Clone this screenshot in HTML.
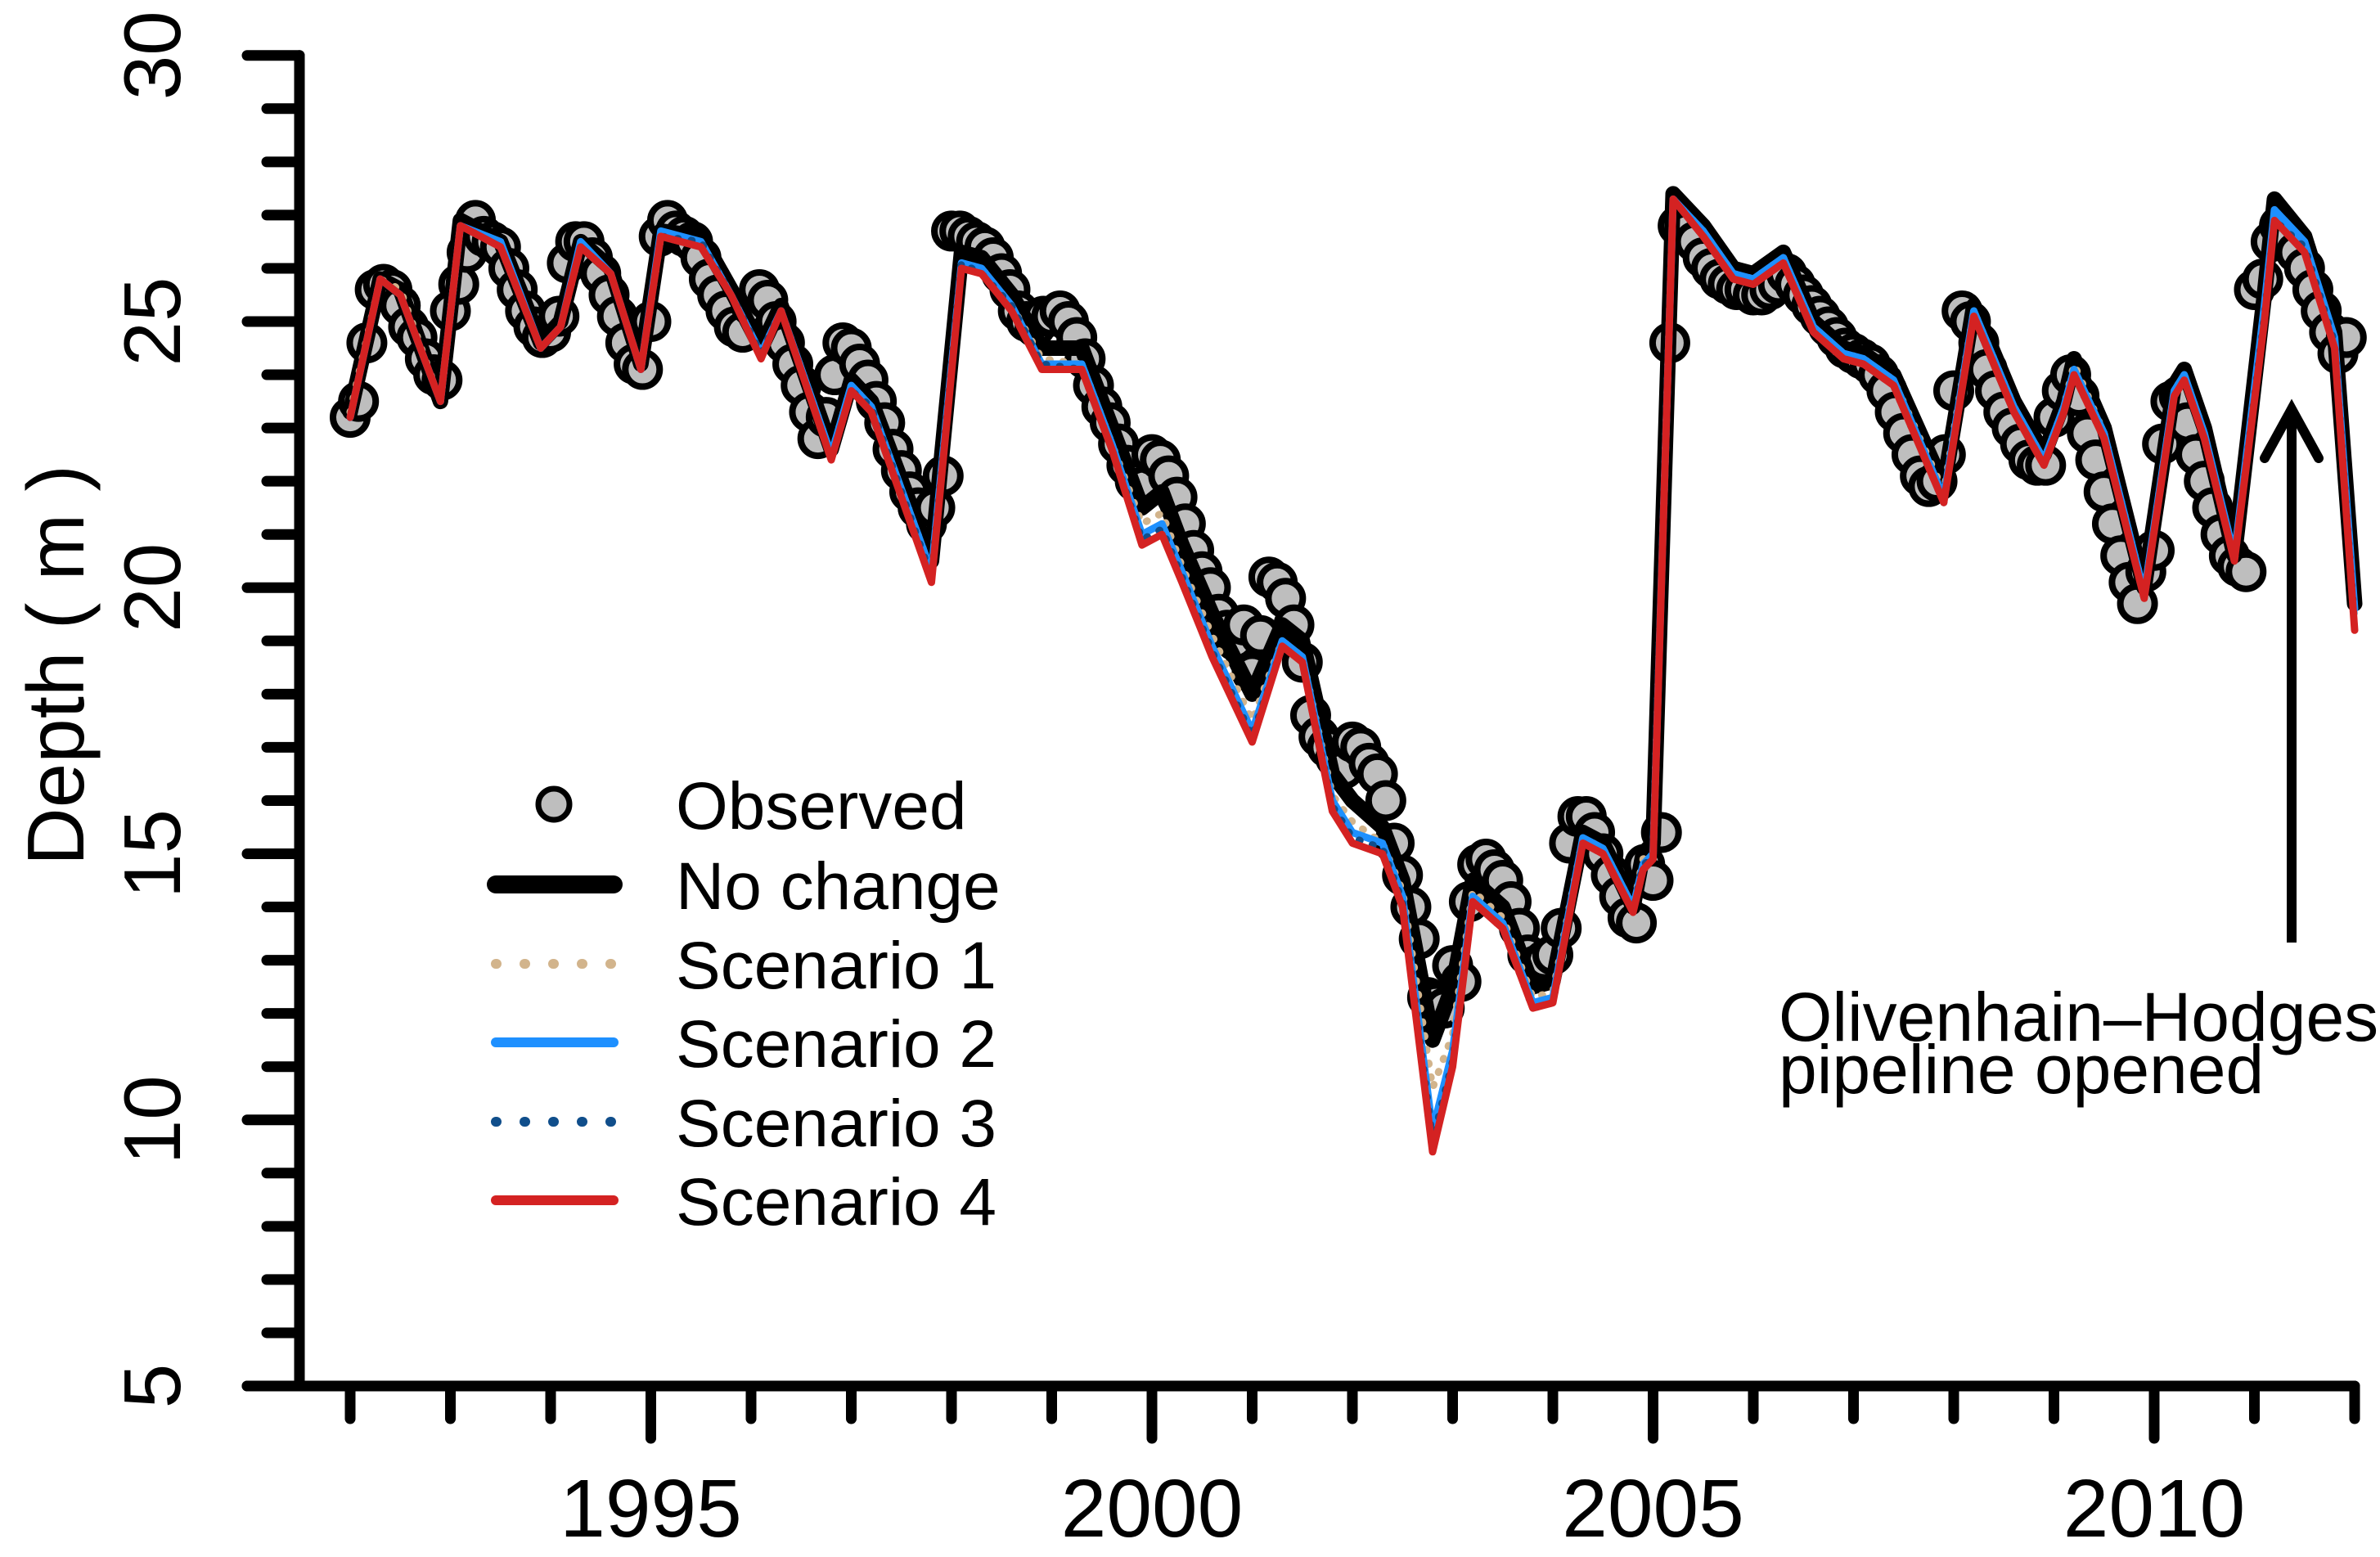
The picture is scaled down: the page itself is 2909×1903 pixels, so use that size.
<!DOCTYPE html>
<html><head><meta charset="utf-8"><style>
html,body{margin:0;padding:0;background:#fff;}
svg{display:block;font-family:"Liberation Sans",sans-serif;}
</style></head><body>
<svg id="chart" width="2909" height="1903" viewBox="0 0 2909 1903" xmlns="http://www.w3.org/2000/svg">
<g id="axes"></g>
<g id="plot"></g>
<g id="legend"></g>
<g>
<text x="2174" y="1272" font-size="84">Olivenhain–Hodges</text>
<text x="2174" y="1336" font-size="84">pipeline opened</text>
<line x1="2801" y1="1152" x2="2801" y2="500" stroke="#000" stroke-width="12"/>
<polyline points="2768,560 2801,500 2834,560" fill="none" stroke="#000" stroke-width="12" stroke-linecap="round" stroke-linejoin="miter"/>
</g>
</svg>
<script>
const yTicks = [5,6,7,8,9,10,11,12,13,14,15,16,17,18,19,20,21,22,23,24,25,26,27,28,29,30];
const yLabels = [5,10,15,20,25,30];
const xTicks = [1992,1993,1994,1995,1996,1997,1998,1999,2000,2001,2002,2003,2004,2005,2006,2007,2008,2009,2010,2011,2012];
const xLabels = [1995,2000,2005,2010];
const lineTimes = [1992.0,1992.3,1992.5,1992.9,1993.1,1993.5,1993.9,1994.1,1994.3,1994.6,1994.9,1995.1,1995.5,1995.8,1996.1,1996.3,1996.8,1997.0,1997.2,1997.8,1998.1,1998.3,1998.6,1998.9,1999.3,1999.6,1999.9,2000.1,2000.3,2000.6,2001.0,2001.3,2001.5,2001.8,2002.0,2002.3,2002.5,2002.8,2003.0,2003.2,2003.5,2003.8,2004.0,2004.3,2004.5,2004.8,2004.9,2005.0,2005.2,2005.5,2005.8,2006.0,2006.3,2006.6,2006.9,2007.1,2007.4,2007.9,2008.2,2008.6,2008.9,2009.1,2009.2,2009.5,2009.9,2010.2,2010.3,2010.5,2010.8,2011.1,2011.2,2011.5,2011.8,2012.0];
const noChange = [23.3,25.8,25.6,23.5,26.9,26.5,24.6,25.0,26.5,26.0,24.2,26.7,26.6,25.6,24.5,25.3,22.6,23.9,23.5,20.5,26.3,26.2,25.5,24.5,24.5,23.0,21.5,21.8,20.8,19.5,18.0,19.3,19.0,16.5,16.0,15.5,14.5,11.5,12.5,14.5,14.0,12.5,12.6,15.4,15.2,14.0,15.0,15.2,27.4,26.8,26.0,25.9,26.3,25.0,24.5,24.4,24.0,21.9,25.3,23.5,22.5,23.5,24.3,23.0,20.0,23.8,24.1,23.0,20.6,25.5,27.3,26.6,24.8,19.7];
const scen1 = [23.3,25.8,25.6,23.5,26.8,26.4,24.5,24.9,26.4,25.9,24.1,26.6,26.5,25.5,24.4,25.2,22.5,23.8,23.4,20.3,26.1,26.0,25.3,24.3,24.2,22.7,21.2,21.4,20.4,19.1,17.5,19.0,18.7,16.1,15.6,15.2,14.3,10.6,11.6,14.3,13.8,12.3,12.4,15.3,15.1,14.0,14.9,15.0,27.3,26.7,25.9,25.8,26.2,24.9,24.4,24.3,23.9,21.8,25.2,23.4,22.4,23.4,24.2,22.9,19.9,23.7,24.0,22.9,20.5,25.2,27.0,26.4,24.6,19.5];
const scen2 = [23.2,25.8,25.5,23.5,26.8,26.5,24.5,24.9,26.5,25.9,24.1,26.7,26.5,25.5,24.4,25.2,22.5,23.8,23.4,20.3,26.1,26.0,25.3,24.2,24.2,22.7,21.0,21.2,20.3,18.9,17.3,19.0,18.7,16.0,15.4,15.2,14.2,9.8,11.3,14.2,13.7,12.2,12.3,15.3,15.1,14.0,14.8,15.0,27.3,26.7,25.9,25.8,26.2,24.9,24.4,24.3,23.9,21.7,25.2,23.4,22.4,23.4,24.1,22.9,19.9,23.7,24.0,22.9,20.6,25.3,27.1,26.5,24.7,19.6];
const scen3 = [23.2,25.8,25.5,23.5,26.8,26.4,24.5,24.9,26.4,25.9,24.1,26.6,26.5,25.5,24.4,25.2,22.4,23.7,23.4,20.2,26.1,25.9,25.3,24.2,24.1,22.6,20.9,21.1,20.2,18.8,17.2,18.9,18.6,15.9,15.3,15.1,14.1,9.6,11.1,14.1,13.6,12.1,12.2,15.2,15.0,13.9,14.8,14.9,27.3,26.6,25.8,25.7,26.1,24.8,24.3,24.2,23.8,21.6,25.1,23.3,22.3,23.3,24.0,22.8,19.8,23.6,23.9,22.8,20.5,25.1,26.9,26.4,24.6,19.3];
const scen4 = [23.2,25.8,25.5,23.5,26.8,26.4,24.5,24.9,26.4,25.9,24.1,26.6,26.4,25.5,24.3,25.2,22.4,23.7,23.3,20.1,26.0,25.9,25.2,24.1,24.1,22.6,20.8,21.0,20.1,18.7,17.1,18.9,18.6,15.8,15.2,15.0,14.0,9.4,11.0,14.1,13.6,12.1,12.2,15.2,15.0,13.9,14.7,14.9,27.3,26.6,25.8,25.7,26.1,24.8,24.3,24.2,23.8,21.6,25.1,23.3,22.3,23.3,24.0,22.8,19.8,23.6,23.9,22.8,20.5,25.0,26.9,26.3,24.5,19.2];
const obsStart = 1992.0;
const observed = [
23.2,23.5,24.6,25.6,25.7,25.6,25.3,24.9,24.7,24.3,24.0,23.9,
25.2,25.7,26.3,26.9,26.6,26.5,26.4,26.0,25.6,25.2,24.9,24.7,
24.8,25.1,26.1,26.5,26.5,26.2,25.9,25.5,25.1,24.6,24.2,24.1,
25.0,26.6,26.9,26.7,26.6,26.5,26.2,25.8,25.5,25.2,24.9,24.8,
25.3,25.6,25.4,25.0,24.6,24.2,23.8,23.3,22.8,23.2,24.0,24.6,
24.5,24.2,23.9,23.5,23.1,22.6,22.2,21.8,21.5,21.2,21.5,22.1,
26.7,26.7,26.6,26.5,26.4,26.2,25.9,25.6,25.2,25.0,24.9,25.1,
25.1,25.2,25.0,24.7,24.3,23.8,23.4,23.1,22.7,22.3,22.0,21.9,
22.5,22.4,22.1,21.7,21.2,20.7,20.3,20.0,19.5,19.2,19.0,19.3,
18.4,19.1,20.2,20.1,19.8,19.3,18.6,17.6,17.2,17.0,16.8,16.6,
17.1,17.0,16.7,16.5,16.0,15.2,14.6,14.0,13.4,12.3,12.2,12.1,
12.9,12.6,14.1,14.8,14.9,14.7,14.5,14.1,13.6,13.1,12.9,13.0,
13.1,13.6,15.2,15.7,15.7,15.4,15.0,14.6,14.2,13.8,13.7,14.8,
14.5,15.4,24.6,26.8,26.7,26.5,26.2,26.0,25.8,25.7,25.6,25.6,
25.5,25.5,25.6,25.7,25.9,25.7,25.5,25.3,25.1,24.9,24.7,24.5,
24.4,24.3,24.2,24.0,23.7,23.3,22.9,22.5,22.1,21.9,22.0,22.5,
23.7,25.2,25.0,24.6,24.1,23.7,23.3,23.0,22.7,22.4,22.3,22.3,
23.2,23.7,24.0,23.6,22.9,22.4,21.8,21.2,20.6,20.1,19.7,20.3,
20.7,22.7,23.5,23.6,23.1,22.5,22.0,21.5,21.0,20.6,20.4,20.3,
25.6,25.8,26.5,26.8,26.6,26.3,26.0,25.6,25.2,24.8,24.4,24.7];

const NS = "http://www.w3.org/2000/svg";
const X0 = 428, XPY = 122.5, Y5 = 1694, YPU = 65.05;
function xs(t){ return X0 + (t - 1992) * XPY; }
function ys(d){ return Y5 - (d - 5) * YPU; }
function mk(tag, attrs, parent){
  const e = document.createElementNS(NS, tag);
  for (const k in attrs) e.setAttribute(k, attrs[k]);
  parent.appendChild(e);
  return e;
}
const axes = document.getElementById('axes');
const plot = document.getElementById('plot');
const legend = document.getElementById('legend');

let el = mk('line', {x1:366,y1:ys(30),x2:366,y2:ys(5),stroke:'#000','stroke-width':13,'stroke-linecap':'round'}, axes);


yTicks.forEach(v => {
  const major = yLabels.includes(v);
  const t = mk('line', {x1:366,y1:ys(v),x2:major?302:326,y2:ys(v),stroke:'#000','stroke-width':13,'stroke-linecap':'round'}, axes);
  
  
});
yLabels.forEach(v => {
  const t = mk('text', {x:0,y:0,'font-size':98,'text-anchor':'middle',transform:`translate(220,${ys(v)}) rotate(-90)`}, axes);
  t.textContent = v;
  
  
});
el = mk('line', {x1:302,y1:Y5,x2:xs(2012),y2:Y5,stroke:'#000','stroke-width':13,'stroke-linecap':'round'}, axes);


xTicks.forEach(v => {
  const major = xLabels.includes(v);
  const t = mk('line', {x1:xs(v),y1:Y5,x2:xs(v),y2:major?1758:1734,stroke:'#000','stroke-width':13,'stroke-linecap':'round'}, axes);
  
  
});
xLabels.forEach(v => {
  const t = mk('text', {x:xs(v),y:1878,'font-size':100,'text-anchor':'middle'}, axes);
  t.textContent = v;
  
  
});
el = mk('text', {x:0,y:0,'font-size':98,'text-anchor':'middle',transform:'translate(102,813) rotate(-90)'}, axes);
el.textContent = 'Depth ( m )';



observed.forEach((v, i) => {
  const c = mk('circle', {cx:xs(obsStart + i/12), cy:ys(v), r:21, fill:'#bebebe', stroke:'#000','stroke-width':8}, plot);
  
  
});
function pts(vals){ return lineTimes.map((t,i)=>xs(t).toFixed(1)+','+ys(vals[i]).toFixed(1)).join(' '); }
const series = [
  {name:'no-change-line', vals:noChange, stroke:'#000', w:19, dash:null},
  {name:'scenario-1-line', vals:scen1, stroke:'#d2b48c', w:9, dash:'1 16'},
  {name:'scenario-2-line', vals:scen2, stroke:'#1e90ff', w:9, dash:null},
  {name:'scenario-3-line', vals:scen3, stroke:'#104e8b', w:9, dash:'1 16'},
  {name:'scenario-4-line', vals:scen4, stroke:'#d42222', w:9, dash:null}
];
series.forEach(s => {
  const a = {points:pts(s.vals), fill:'none', stroke:s.stroke, 'stroke-width':s.w, 'stroke-linejoin':'round', 'stroke-linecap':'round'};
  if (s.dash) a['stroke-dasharray'] = s.dash;
  const p = mk('polyline', a, plot);
  
  
});

const legY = [985,1083,1180,1276,1373,1469];
const legNames = ['Observed','No change','Scenario 1','Scenario 2','Scenario 3','Scenario 4'];
el = mk('circle', {cx:677, cy:legY[0]-2, r:19, fill:'#bebebe', stroke:'#000','stroke-width':7}, legend);


series.forEach((s, i) => {
  const a = {x1:606,y1:legY[i+1]-2,x2:750,y2:legY[i+1]-2,stroke:s.stroke,'stroke-width':s.w===19?22:12,'stroke-linecap':'round'};
  if (s.dash) a['stroke-dasharray'] = '1 34';
  const l = mk('line', a, legend);
  
  
});
legNames.forEach((n, i) => {
  const t = mk('text', {x:826, y:legY[i]+28, 'font-size':82}, legend);
  t.textContent = n;
  
  
});
</script>
</body></html>
